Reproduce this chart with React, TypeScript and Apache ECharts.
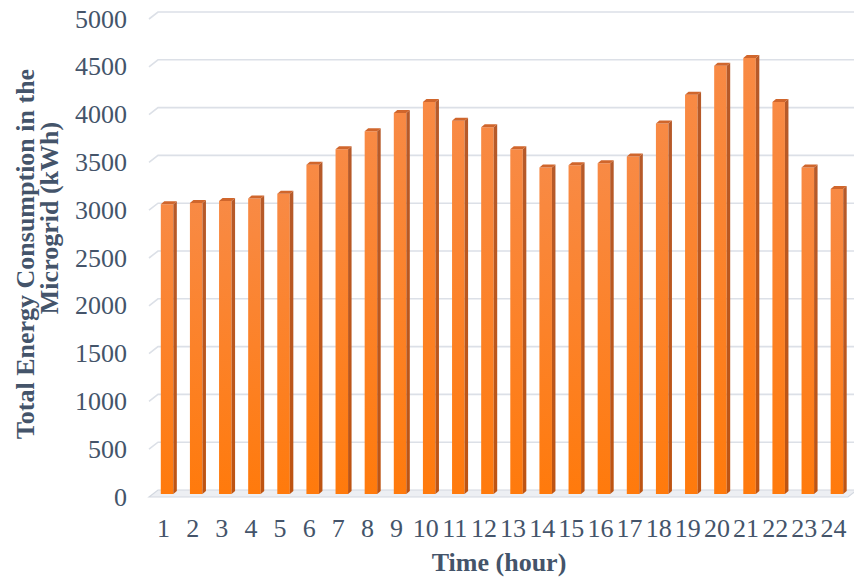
import React, { useEffect, useRef } from "react";
import * as echarts from "echarts";

// Hour of day (1..24)
const hours: string[] = [
  "1", "2", "3", "4", "5", "6", "7", "8", "9", "10", "11", "12",
  "13", "14", "15", "16", "17", "18", "19", "20", "21", "22", "23", "24",
];

// Total energy consumption in the microgrid per hour (kWh)
const consumption: number[] = [
  3030, 3045, 3065, 3090, 3140, 3445, 3605, 3795, 3985, 4100, 3905, 3835,
  3605, 3415, 3440, 3460, 3530, 3875, 4175, 4480, 4560, 4100, 3415, 3190,
];

// Value-axis ticks (back-wall gridlines, 0 is the floor)
const yTicks: number[] = [0, 500, 1000, 1500, 2000, 2500, 3000, 3500, 4000, 4500, 5000];

const TEXT_COLOR = "#44546A";
const SERIF = '"Liberation Serif", "Times New Roman", serif';

// oblique depth of the back wall and of each column
const WALL_DX = 9;
const WALL_DY = 7;
const BAR_DX = 3.5;
const BAR_DY = 3;

const renderWall = (params: any, api: any) => {
  const cs = params.coordSys;
  const v = api.value(1);
  const y = api.coord([0, v])[1];
  const left = cs.x;
  const right = cs.x + cs.width;
  if (v === 0) {
    return {
      type: "polygon",
      shape: {
        points: [
          [left, y],
          [left + WALL_DX, y - WALL_DY],
          [right + WALL_DX, y - WALL_DY],
          [right, y],
        ],
      },
      style: { fill: "#EDEFF3", stroke: "#D3D8E0", lineWidth: 1.2 },
    };
  }
  return {
    type: "polyline",
    shape: {
      points: [
        [left, y],
        [left + WALL_DX, y - WALL_DY],
        [right + WALL_DX, y - WALL_DY],
      ],
    },
    style: { fill: null, stroke: "#DCE0E7", lineWidth: 1.6 },
  };
};

const renderColumn = (params: any, api: any) => {
  const idx = api.value(0);
  const val = api.value(1);
  const top = api.coord([idx, val]);
  const base = api.coord([idx, 0]);
  const band = api.size([1, 0])[0];
  const w = band * 0.43;
  const x0 = top[0] + BAR_DX - w / 2;
  const x1 = x0 + w;
  const yT = top[1] - BAR_DY;
  const yB = base[1] - BAR_DY;
  return {
    type: "group",
    children: [
      {
        type: "rect",
        shape: { x: x0, y: yT, width: w, height: yB - yT },
        style: {
          fill: new echarts.graphic.LinearGradient(0, 0, 0, 1, [
            { offset: 0, color: "#F88A45" },
            { offset: 0.5, color: "#FC8229" },
            { offset: 1, color: "#FF7A0C" },
          ]),
        },
      },
      {
        type: "polygon",
        shape: {
          points: [
            [x1, yT],
            [x1 + BAR_DX, yT - BAR_DY],
            [x1 + BAR_DX, yB - BAR_DY],
            [x1, yB],
          ],
        },
        style: {
          fill: new echarts.graphic.LinearGradient(0, 0, 0, 1, [
            { offset: 0, color: "#B65A2A" },
            { offset: 1, color: "#BE5412" },
          ]),
        },
      },
      {
        type: "polygon",
        shape: {
          points: [
            [x0, yT],
            [x0 + BAR_DX, yT - BAR_DY],
            [x1 + BAR_DX, yT - BAR_DY],
            [x1, yT],
          ],
        },
        style: { fill: "#D0662C" },
      },
    ],
  };
};

export default function App() {
  const ref = useRef<HTMLDivElement>(null);

  useEffect(() => {
    if (!ref.current) return;
    const chart = echarts.init(ref.current, undefined, { renderer: "svg" });
    chart.setOption({
      animation: false,
      backgroundColor: "#ffffff",
      grid: { left: 149, right: 6, top: 19, bottom: 83, containLabel: false },
      xAxis: {
        type: "category",
        data: hours,
        boundaryGap: true,
        axisLine: { show: false },
        axisTick: { show: false },
        splitLine: { show: false },
        axisLabel: {
          color: TEXT_COLOR,
          fontFamily: SERIF,
          fontSize: 26,
          margin: 18,
          interval: 0,
        },
      },
      yAxis: {
        type: "value",
        min: 0,
        max: 5000,
        interval: 500,
        axisLine: { show: false },
        axisTick: { show: false },
        splitLine: { show: false },
        axisLabel: {
          color: TEXT_COLOR,
          fontFamily: SERIF,
          fontSize: 26,
          margin: 22,
          formatter: (v: number) => String(v),
        },
      },
      series: [
        {
          type: "custom",
          z: 1,
          silent: true,
          renderItem: renderWall,
          encode: { x: 0, y: 1 },
          data: yTicks.map((v) => [0, v]),
        },
        {
          type: "custom",
          z: 2,
          renderItem: renderColumn,
          encode: { x: 0, y: 1 },
          data: consumption.map((v, i) => [i, v]),
        },
      ],
      graphic: [
        {
          type: "text",
          x: 499,
          y: 562,
          style: {
            text: "Time (hour)",
            fill: TEXT_COLOR,
            font: `bold 26px ${SERIF}`,
            textAlign: "center",
            textVerticalAlign: "middle",
          },
        },
        {
          type: "text",
          x: 25,
          y: 254,
          rotation: Math.PI / 2,
          style: {
            text: "Total Energy Consumption in the",
            fill: TEXT_COLOR,
            font: `bold 26px ${SERIF}`,
            textAlign: "center",
            textVerticalAlign: "middle",
          },
        },
        {
          type: "text",
          x: 49,
          y: 218,
          rotation: Math.PI / 2,
          style: {
            text: "Microgrid (kWh)",
            fill: TEXT_COLOR,
            font: `bold 26px ${SERIF}`,
            textAlign: "center",
            textVerticalAlign: "middle",
          },
        },
      ],
    });
    return () => chart.dispose();
  }, []);

  return (
    <div
      ref={ref}
      style={{ position: "fixed", left: 0, top: 0, width: 854, height: 580 }}
    />
  );
}
